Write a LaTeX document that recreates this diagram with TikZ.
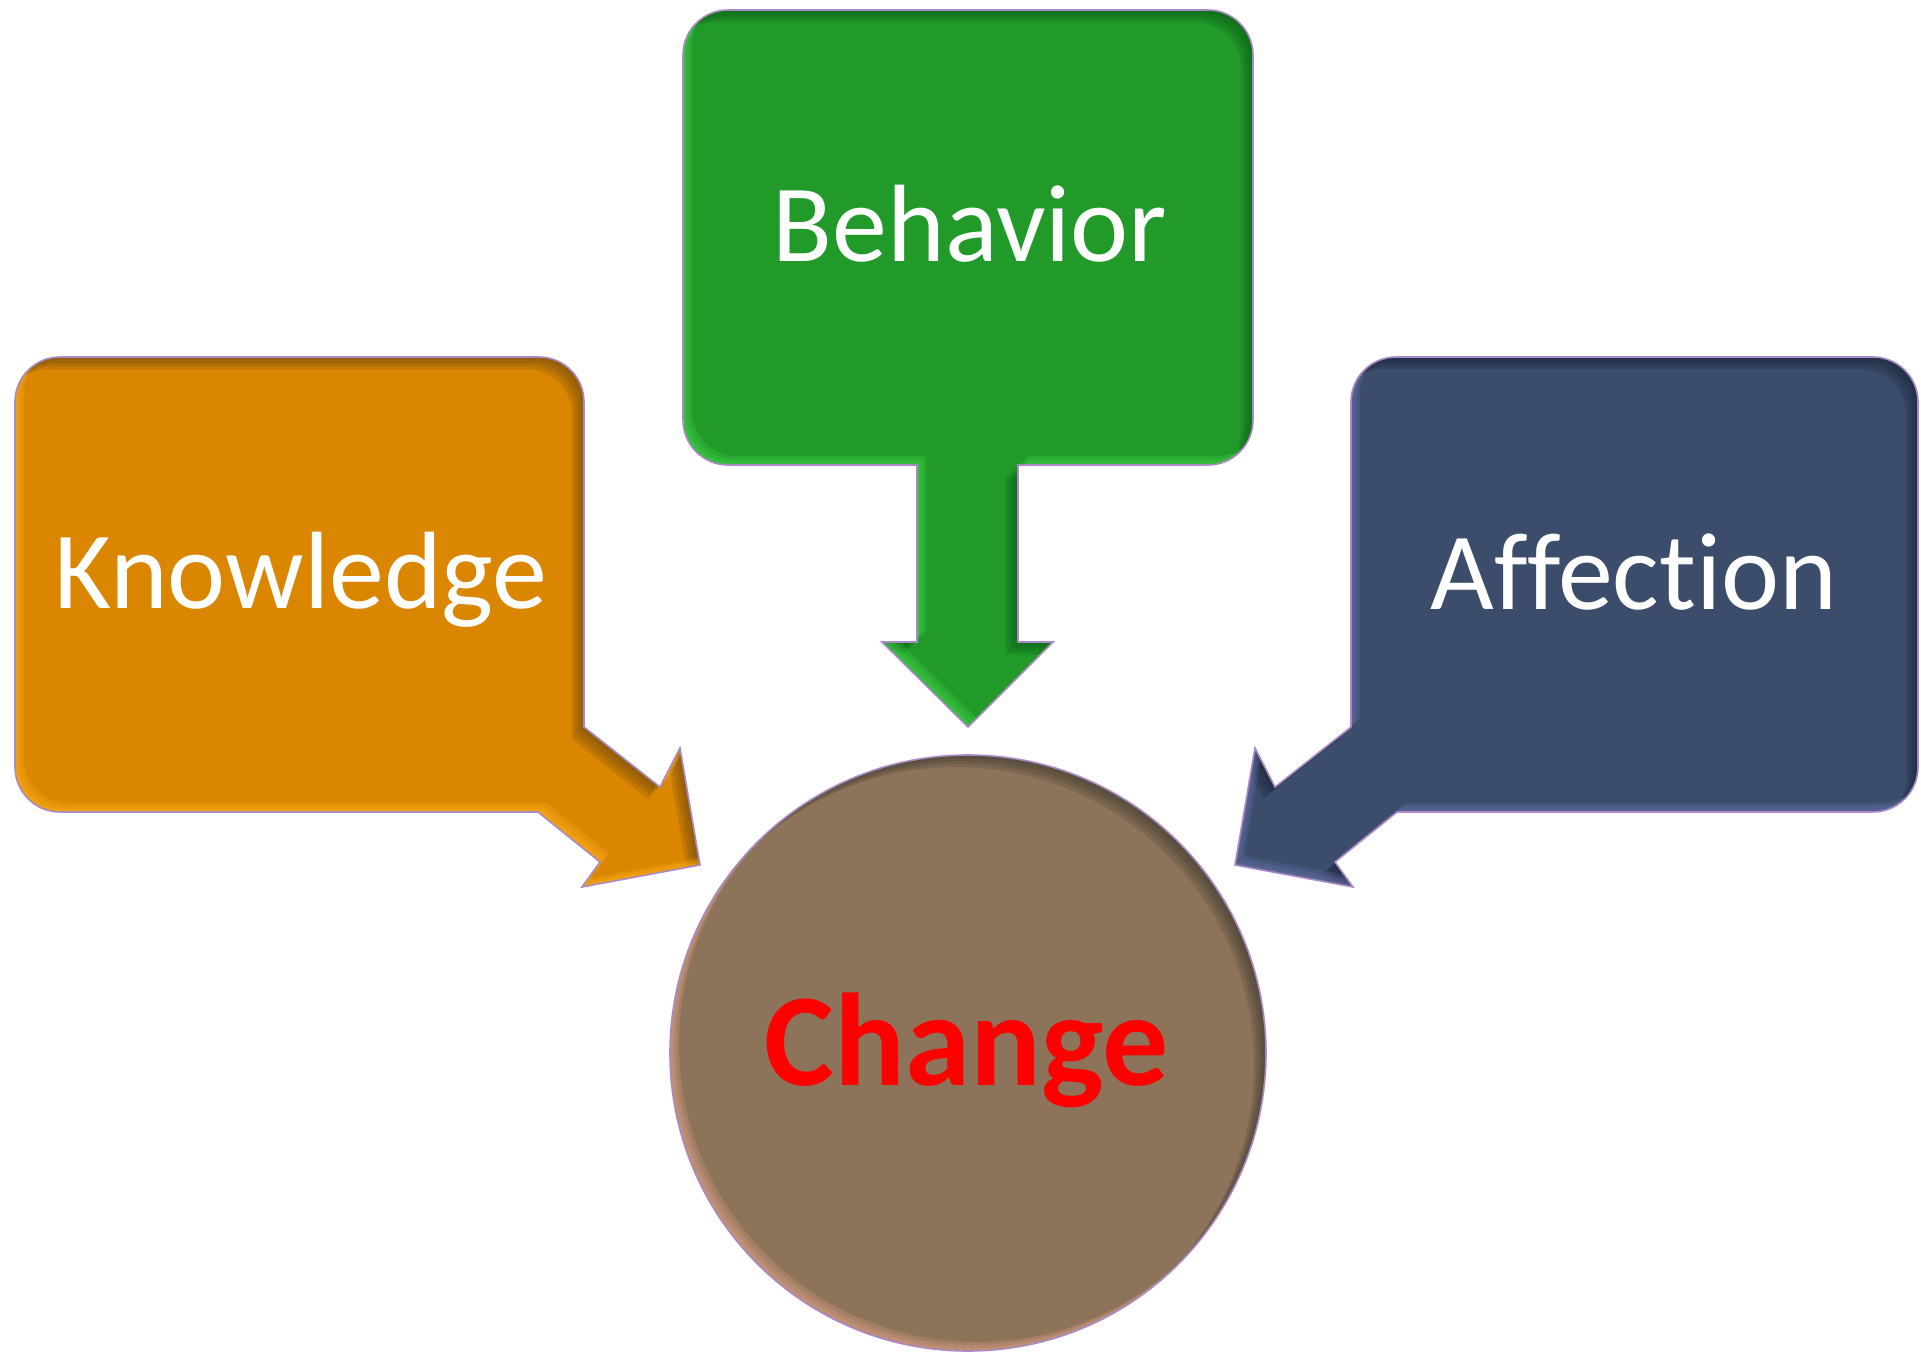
\documentclass[tikz,border=0pt]{standalone}
\usepackage{fontspec}
\setmainfont{Carlito}[Ligatures={NoCommon}]
\definecolor{korange}{HTML}{DA8600}
\definecolor{kdark}{HTML}{6E4A10}
\definecolor{klight}{HTML}{FFB21C}
\definecolor{bgreen}{HTML}{219A2A}
\definecolor{bdark}{HTML}{0E5A14}
\definecolor{blight}{HTML}{45D84A}
\definecolor{anavy}{HTML}{3B4D6B}
\definecolor{adark}{HTML}{1A2438}
\definecolor{alight}{HTML}{6A72B0}
\definecolor{cbrown}{HTML}{8D7359}
\definecolor{cdark}{HTML}{3F3A30}
\definecolor{clight}{HTML}{E6A68A}
\definecolor{rimline}{HTML}{A98AC4}
\definecolor{changered}{HTML}{FF0000}
\newcommand\bevelshape[4]{%
  \fill[#2,#1];
  \begin{scope}
    \clip[#1];
    \foreach \d in {3,6,9,12}{%
      \fill[#3,opacity=0.22,even odd rule,shift={(-\d,\d)}] (-300,-300) rectangle (2300,1700) [#1];
    }
    \foreach \d in {3,6,9}{%
      \fill[#4,opacity=0.25,even odd rule,shift={(\d,-\d)}] (-300,-300) rectangle (2300,1700) [#1];
    }
  \end{scope}
  \draw[rimline,line width=0.8pt,#1];
}
\begin{document}
\begin{tikzpicture}[x=0.5pt,y=-0.5pt,
  kshape/.style={insert path={(60,357) -- (539,357) arc[start angle=270,end angle=360,radius=45]
     -- (584,727) -- (660,787) -- (680,748) -- (700,865) -- (582,887) -- (600,862) -- (538,812)
     -- (60,812) arc[start angle=90,end angle=180,radius=45]
     -- (15,402) arc[start angle=180,end angle=270,radius=45] -- cycle}},
  bshape/.style={insert path={(728,10) -- (1208,10) arc[start angle=270,end angle=360,radius=45]
     -- (1253,420) arc[start angle=0,end angle=90,radius=45]
     -- (1018,465) -- (1018,642) -- (1053,642) -- (968,727) -- (882,642) -- (917,642) -- (917,465)
     -- (728,465) arc[start angle=90,end angle=180,radius=45]
     -- (683,55) arc[start angle=180,end angle=270,radius=45] -- cycle}},
  ashape/.style={insert path={(1396,357) -- (1873,357) arc[start angle=270,end angle=360,radius=45]
     -- (1918,767) arc[start angle=0,end angle=90,radius=45]
     -- (1397,812) -- (1335,862) -- (1353,887) -- (1235,865) -- (1255,748) -- (1275,787) -- (1351,727)
     -- (1351,402) arc[start angle=180,end angle=270,radius=45] -- cycle}},
  cshape/.style={insert path={(968,1053) circle[radius=298]}},
  boxtext/.style={text=white,anchor=base,font=\fontsize{55}{60}\selectfont,inner sep=0pt},
  changetext/.style={anchor=base,font=\fontsize{66}{72}\selectfont\bfseries,inner sep=0pt}]
\useasboundingbox (0,0) rectangle (1921,1354);
\bevelshape{kshape}{korange}{kdark}{klight}
\bevelshape{bshape}{bgreen}{bdark}{blight}
\bevelshape{ashape}{anavy}{adark}{alight}
\bevelshape{cshape}{cbrown}{cdark}{clight}
\node[boxtext] (knowledge) at (301,608) {Knowledge};
\node[boxtext] (behavior) at (970,261) {Behavior};
\node[boxtext] (affection) at (1634,609) {Affection};
\node[changetext,text=changered] (change) at (967,1085) {Change};
\end{tikzpicture}
\end{document}
